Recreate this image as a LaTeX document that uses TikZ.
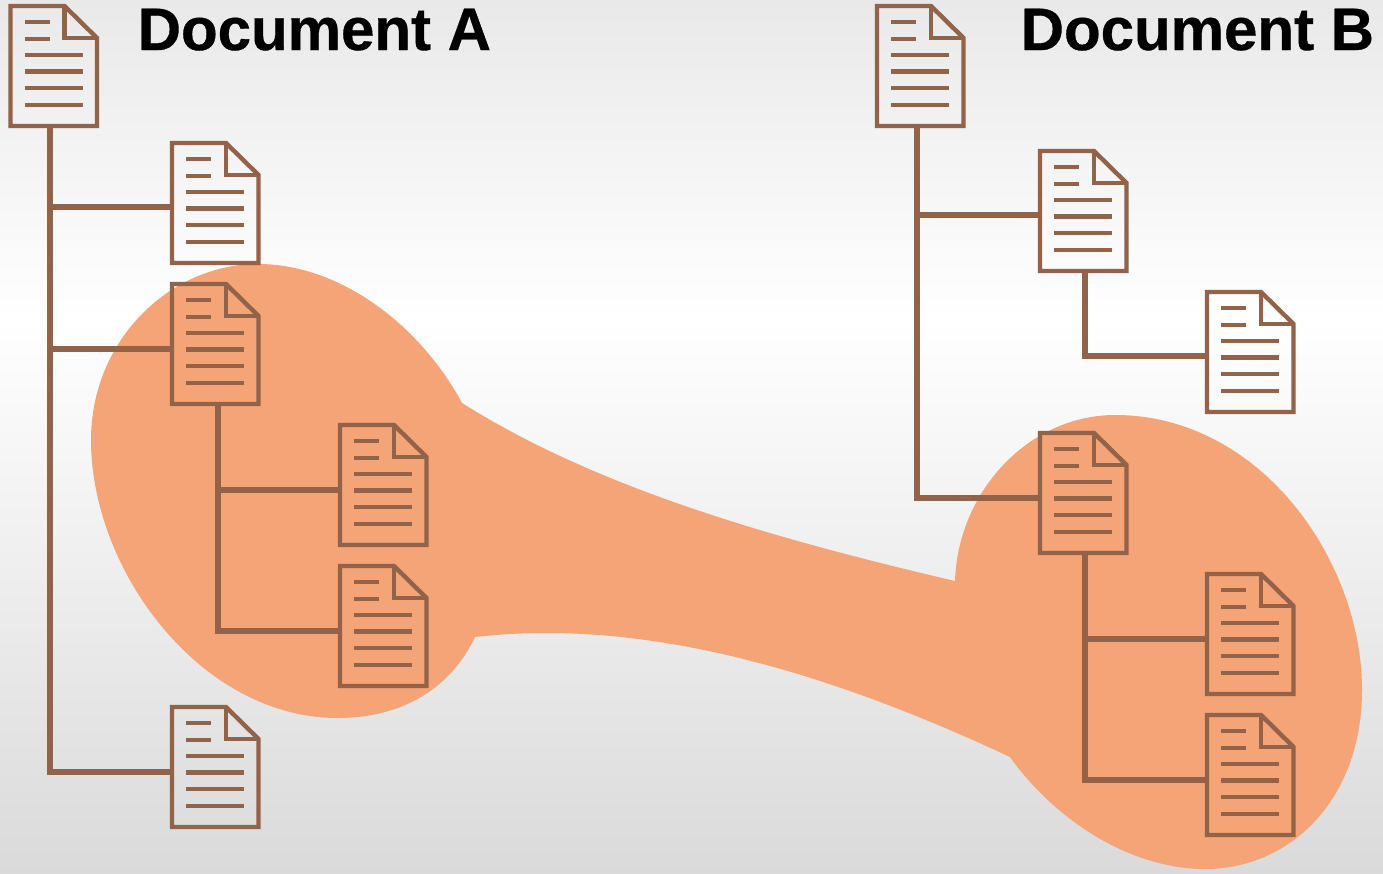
\documentclass[tikz,border=0pt]{standalone}
\usepackage{fontspec}
\setmainfont[BoldFeatures={FakeBold=0.6}]{Liberation Sans}
\definecolor{docbrown}{HTML}{926249}
\definecolor{blobfill}{HTML}{F4A476}
\definecolor{bgtop}{HTML}{E9E9E9}
\definecolor{bgbottom}{HTML}{DADADA}
\tikzset{
  docbox/.style={minimum width=90pt,minimum height=124pt,inner sep=0pt},
  docline/.style={draw=docbrown,line width=4.4pt,line join=miter},
  link/.style={draw=docbrown,line width=5.6pt},
  title/.style={anchor=base west,inner sep=0pt,font=\fontsize{60}{72}\selectfont\bfseries}
}
\newcommand{\docicon}[2]{%
  \node[docbox] (#1) at (#2) {};
  \begin{scope}[shift={(#2)}]
    \draw[docline] (-43,-60) -- (11,-60) -- (43.5,-28) -- (43.5,60) -- (-43,60) -- cycle;
    \draw[docline] (11,-60) -- (11,-28) -- (43.5,-28);
    \draw[docline] (-29,-44) -- (-4,-44);
    \draw[docline] (-29,-27) -- (-4,-27);
    \foreach \ly in {-11,5.5,22,39} {
      \draw[docline] (-29,\ly) -- (29,\ly);
    }
  \end{scope}
}
\begin{document}
\begin{tikzpicture}[x=1pt,y=-1pt]
        \useasboundingbox (0,0) rectangle (1383,873);

        % Background
        \shade[top color=bgtop,bottom color=white] (0,0) rectangle (1383,320);
        \shade[top color=white,bottom color=bgbottom] (0,319.5) rectangle (1383,873);

        % Highlighted region
        \fill[blobfill] (462,403) .. controls (600,490) and (780,540) .. (955,581)
            .. controls (958,490) and (1030,415) .. (1115,415)
            .. controls (1260,415) and (1362,560) .. (1362,690)
            .. controls (1362,800) and (1290,869) .. (1205,869)
            .. controls (1130,869) and (1055,820) .. (1010,757)
            .. controls (820,668) and (640,618) .. (475,637)
            .. controls (450,690) and (400,718) .. (338,718)
            .. controls (200,718) and (91,570) .. (91,440)
            .. controls (91,340) and (170,264) .. (258,264)
            .. controls (340,264) and (420,325) .. (462,403) -- cycle;

        % Nodes for document A
        \docicon{A}{53.5,66}
        \docicon{A1}{215,203}
        \docicon{A2}{215,344}
        \docicon{A21}{383,485}
        \docicon{A22}{383,626}
        \docicon{A3}{215,767}

        % Nodes for document B
        \docicon{B}{920,66}
        \docicon{B1}{1083,211}
        \docicon{B11}{1250,352}
        \docicon{B2}{1083,493}
        \docicon{B21}{1250,634}
        \docicon{B22}{1250,775}

        % Connectors for document A
        \draw[link] ([xshift=-3.5pt]A.south) |- ([yshift=-4pt]A1.west);
        \draw[link] ([xshift=-3.5pt]A.south) |- ([yshift=-5pt]A2.west);
        \draw[link] ([xshift=-3.5pt]A.south) |- ([yshift=-5pt]A3.west);
        \draw[link] ([xshift=3pt]A2.south) |- ([yshift=-5pt]A21.west);
        \draw[link] ([xshift=3pt]A2.south) |- ([yshift=-5pt]A22.west);

        % Connectors for document B
        \draw[link] ([xshift=-3pt]B.south) |- ([yshift=-4pt]B1.west);
        \draw[link] ([xshift=-3pt]B.south) |- ([yshift=-5pt]B2.west);
        \draw[link] ([xshift=2pt]B1.south) |- ([yshift=-4pt]B11.west);
        \draw[link] ([xshift=2pt]B2.south) |- ([yshift=-5pt]B21.west);
        \draw[link] ([xshift=2pt]B2.south) |- ([yshift=-5pt]B22.west);

        % Titles
        \node[title] (titleA) at (137.5,50) {Document A};
        \node[title] (titleB) at (1020.5,50) {Document B};

\end{tikzpicture}
\end{document}
